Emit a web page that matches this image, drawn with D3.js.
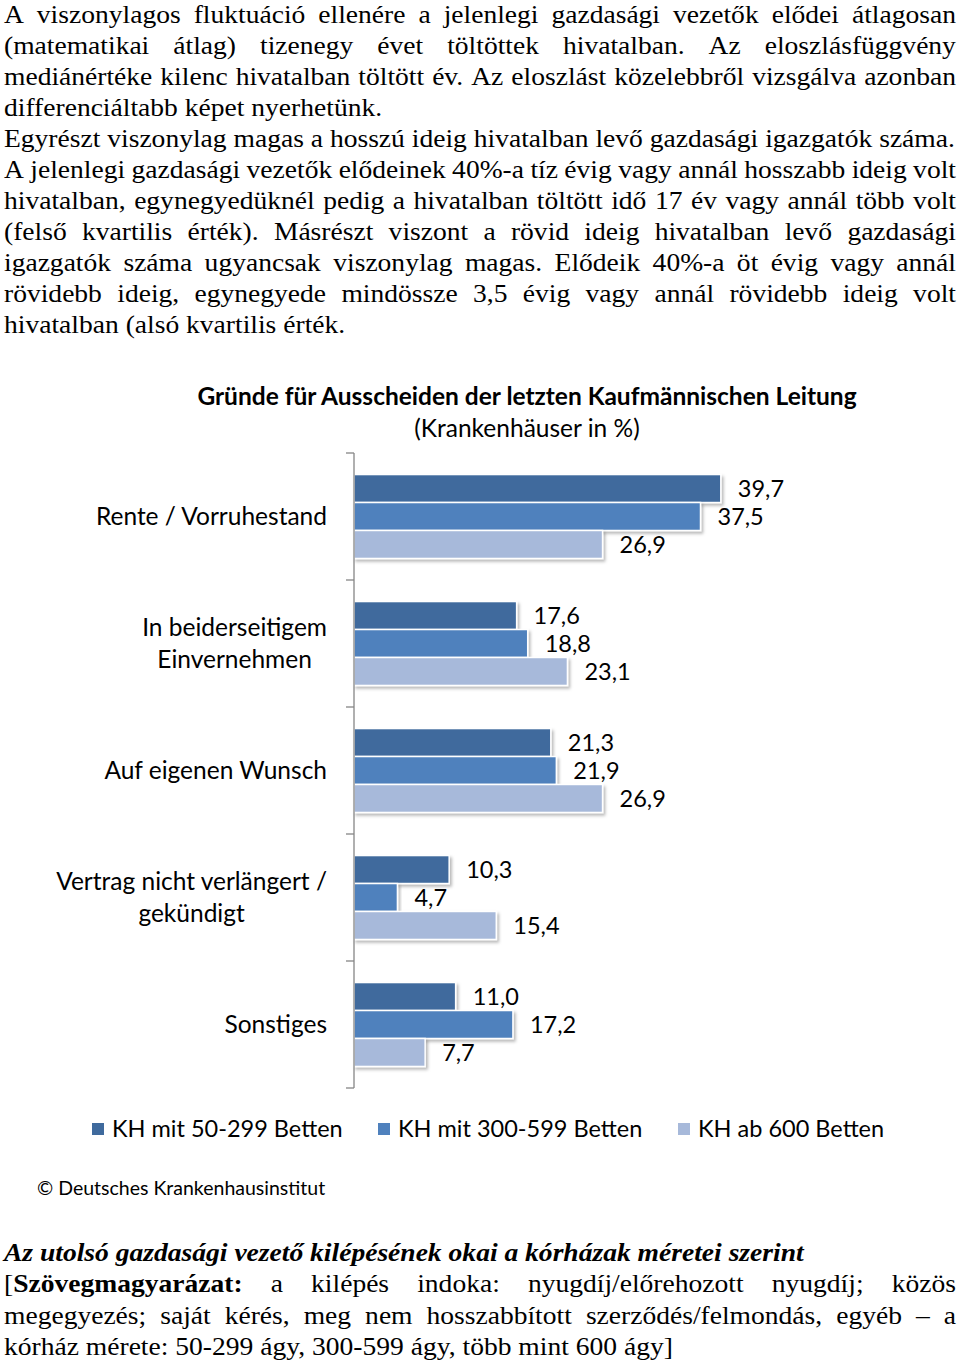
<!DOCTYPE html>
<html><head><meta charset="utf-8">
<script src="https://cdn.jsdelivr.net/npm/d3@7"></script>
<style>body{margin:0;background:#fff} svg{display:block}</style>
</head><body><svg id="c" width="960" height="1363"></svg>
<script>
// ---------- data ----------
const categories = ["Rente / Vorruhestand", "In beiderseitigem Einvernehmen", "Auf eigenen Wunsch", "Vertrag nicht verlängert / gekündigt", "Sonstiges"];
const categoryLines = [["Rente / Vorruhestand"], ["In beiderseitigem", "Einvernehmen"], ["Auf eigenen Wunsch"], ["Vertrag nicht verlängert /", "gekündigt"], ["Sonstiges"]];
const seriesNames = ["KH mit 50-299 Betten", "KH mit 300-599 Betten", "KH ab 600 Betten"];
const valuesSmall = [39.7, 17.6, 21.3, 10.3, 11.0];
const valuesMedium = [37.5, 18.8, 21.9, 4.7, 17.2];
const valuesLarge = [26.9, 23.1, 26.9, 15.4, 7.7];
const seriesValues = [valuesSmall, valuesMedium, valuesLarge];
const seriesColors = ["#3f6a9d", "#4f81bd", "#a7b9da"];

const chartTitle = "Gründe für Ausscheiden der letzten Kaufmännischen Leitung";
const chartSubtitle = "(Krankenhäuser in %)";
const sourceText = "© Deutsches Krankenhausinstitut";

const bodyLines = [
  {segs:[["A viszonylagos fluktuáció ellenére a jelenlegi gazdasági vezetők elődei átlagosan"]], j:true},
  {segs:[["(matematikai átlag) tizenegy évet töltöttek hivatalban. Az eloszlásfüggvény"]], j:true},
  {segs:[["mediánértéke kilenc hivatalban töltött év. Az eloszlást közelebbről vizsgálva azonban"]], j:true},
  {segs:[["differenciáltabb képet nyerhetünk."]], j:false},
  {segs:[["Egyrészt viszonylag magas a hosszú ideig hivatalban levő gazdasági igazgatók száma."]], j:false},
  {segs:[["A jelenlegi gazdasági vezetők elődeinek 40%-a tíz évig vagy annál hosszabb ideig volt"]], j:true},
  {segs:[["hivatalban, egynegyedüknél pedig a hivatalban töltött idő 17 év vagy annál több volt"]], j:true},
  {segs:[["(felső kvartilis érték). Másrészt viszont a rövid ideig hivatalban levő gazdasági"]], j:true},
  {segs:[["igazgatók száma ugyancsak viszonylag magas. Elődeik 40%-a öt évig vagy annál"]], j:true},
  {segs:[["rövidebb ideig, egynegyede mindössze 3,5 évig vagy annál rövidebb ideig volt"]], j:true},
  {segs:[["hivatalban (alsó kvartilis érték."]], j:false}
];
const captionLines = [
  {segs:[["Az utolsó gazdasági vezető kilépésének okai a kórházak méretei szerint", "bold", "italic"]], j:false},
  {segs:[["[", "normal"], ["Szövegmagyarázat:", "bold"], [" a kilépés indoka: nyugdíj/előrehozott nyugdíj; közös", "normal"]], j:true},
  {segs:[["megegyezés; saját kérés, meg nem hosszabbított szerződés/felmondás, egyéb – a"]], j:true},
  {segs:[["kórház mérete: 50-299 ágy, 300-599 ágy, több mint 600 ágy]"]], j:false}
];

// ---------- setup ----------
const svg = d3.select("#c");
const serif = "'Liberation Serif','Times New Roman',serif";
const sans = "Lato, 'Open Sans', sans-serif";
const F = 25.5;
const textLeft = 4, textRight = 956;

function measure(str, weight, style) {
  const t = svg.append("text").attr("font-family", serif).attr("font-size", F)
    .attr("font-weight", weight || "normal").attr("font-style", style || "normal")
    .style("white-space", "pre").text(str);
  const w = t.node().getComputedTextLength();
  t.remove();
  return w;
}
const sx = (textRight - textLeft - 1) / measure(bodyLines[4].segs[0][0]);

function drawBlock(lines, y0, pitch) {
  const g = svg.append("g").attr("transform", `translate(${textLeft},0) scale(${sx},1)`);
  const target = (textRight - textLeft) / sx;
  const spaceW = measure("a a") - 2 * measure("a");
  lines.forEach((ln, i) => {
    const words = [];
    ln.segs.forEach(([txt, weight, style]) => {
      const parts = txt.split(" ");
      parts.forEach((p, k) => {
        const glued = k === 0 && words.length && !txt.startsWith(" ");
        if (p === "") return;
        const piece = {t: p, weight: weight || "normal", style: style || "normal"};
        if (glued) words[words.length - 1].pieces.push(piece);
        else words.push({pieces: [piece]});
      });
    });
    words.forEach(w => { w.pieces.forEach(p => p.w = measure(p.t, p.weight, p.style)); w.w = d3.sum(w.pieces, p => p.w); });
    const total = d3.sum(words, w => w.w);
    const gap = ln.j ? (target - total) / (words.length - 1) : spaceW;
    let x = 0;
    const y = y0 + i * pitch;
    words.forEach(w => {
      w.pieces.forEach(p => {
        g.append("text").attr("x", x).attr("y", y).attr("font-family", serif).attr("font-size", F)
          .attr("font-weight", p.weight).attr("font-style", p.style).attr("fill", "#000").text(p.t);
        x += p.w;
      });
      x += gap;
    });
  });
}
drawBlock(bodyLines, 23, 31.05);
drawBlock(captionLines, 1261, 31.3);

// ---------- chart ----------
const x = d3.scaleLinear().domain([0, 40]).range([354, 354 + 9.24 * 40]);
const y = d3.scaleBand().domain(categories).range([453, 1088]).paddingInner(0).paddingOuter(0);
const ys = d3.scaleBand().domain(d3.range(3)).range([0, y.bandwidth()]).paddingInner(0).paddingOuter(0.77);
const fmt = v => d3.format(".1f")(v).replace(".", ",");

const defs = svg.append("defs");
const f = defs.append("filter").attr("id", "sh").attr("x", "-5%").attr("y", "-20%").attr("width", "115%").attr("height", "160%");
f.append("feDropShadow").attr("dx", 2).attr("dy", 2.5).attr("stdDeviation", 1.6).attr("flood-color", "#000").attr("flood-opacity", 0.28);

const chart = svg.append("g");
chart.append("text").attr("x", 527).attr("y", 405).attr("text-anchor", "middle")
  .attr("font-family", sans).attr("font-weight", "bold").attr("font-size", 24.5).attr("fill", "#000").text(chartTitle);
chart.append("text").attr("x", 527).attr("y", 437).attr("text-anchor", "middle")
  .attr("font-family", sans).attr("font-size", 24.5).attr("fill", "#000").text(chartSubtitle);

const groups = chart.selectAll("g.cat").data(categories).join("g").attr("class", "cat")
  .attr("transform", d => `translate(0,${y(d)})`);
groups.each(function(cat, ci) {
  const gg = d3.select(this);
  seriesValues.forEach((vals, si) => {
    gg.append("rect").attr("x", x(0)).attr("y", ys(si)).attr("width", x(vals[ci]) - x(0)).attr("height", ys.bandwidth())
      .attr("fill", seriesColors[si]).attr("stroke", "#fff").attr("stroke-width", 1.5).attr("filter", "url(#sh)");
  });
  seriesValues.forEach((vals, si) => {
    gg.append("text").attr("x", x(vals[ci]) + 17).attr("y", ys(si) + ys.bandwidth() / 2).attr("dy", "0.36em")
      .attr("font-family", sans).attr("font-size", 23.5).attr("fill", "#000").text(fmt(vals[ci]));
  });
});

// axis
const axisG = chart.append("g");
axisG.append("line").attr("x1", x(0)).attr("x2", x(0)).attr("y1", y.range()[0]).attr("y2", y.range()[1])
  .attr("stroke", "#868686").attr("stroke-width", 1.3);
const bounds = categories.map(c => y(c)).concat([y.range()[1]]);
axisG.selectAll("line.tk").data(bounds).join("line").attr("class", "tk")
  .attr("x1", x(0) - 8).attr("x2", x(0)).attr("y1", d => d).attr("y2", d => d)
  .attr("stroke", "#868686").attr("stroke-width", 1.3);

// category labels
const catFont = 24.5;
categoryLines.forEach((lines, ci) => {
  const cy = y(categories[ci]) + y.bandwidth() / 2;
  const tmp = lines.map(l => {
    const t = chart.append("text").attr("font-family", sans).attr("font-size", catFont).text(l);
    const w = t.node().getComputedTextLength(); t.remove(); return w;
  });
  const maxW = d3.max(tmp);
  const cx = 327 - maxW / 2;
  lines.forEach((l, li) => {
    chart.append("text").attr("x", cx).attr("y", cy + (li - (lines.length - 1) / 2) * 32).attr("dy", "0.36em")
      .attr("text-anchor", "middle").attr("font-family", sans).attr("font-size", catFont).attr("fill", "#000").text(l);
  });
});

// legend
const legX = [92, 378, 678];
seriesNames.forEach((n, si) => {
  chart.append("rect").attr("x", legX[si]).attr("y", 1123).attr("width", 12).attr("height", 12).attr("fill", seriesColors[si]);
  chart.append("text").attr("x", legX[si] + 20).attr("y", 1129).attr("dy", "0.36em")
    .attr("font-family", sans).attr("font-size", 23.5).attr("fill", "#000").text(n);
});
chart.append("text").attr("x", 37).attr("y", 1188).attr("dy", "0.36em")
  .attr("font-family", sans).attr("font-size", 19.5).attr("fill", "#000").text(sourceText);
</script></body></html>
